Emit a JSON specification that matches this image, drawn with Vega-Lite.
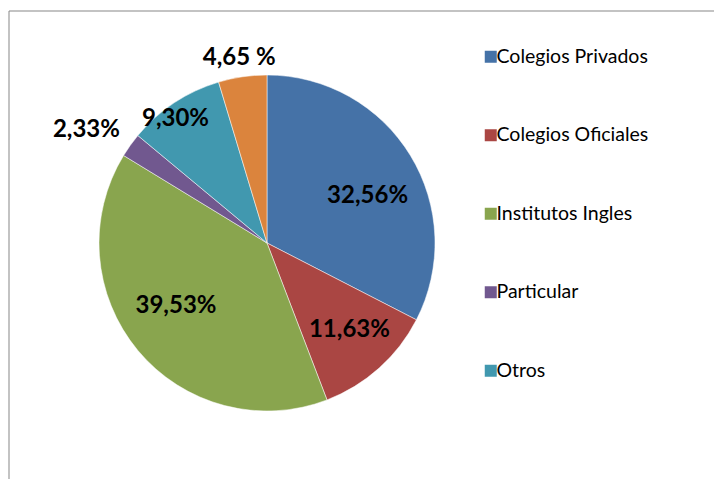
{
  "$schema": "https://vega.github.io/schema/vega-lite/v6.json",
  "width": 516,
  "height": 464,
  "autosize": "none",
  "padding": {"left": 9, "top": 11, "right": 189, "bottom": 4},
  "background": "white",
  "config": {
    "view": {"stroke": null},
    "font": "Lato"
  },
  "data": {
    "values": [
      {"categoria": "Colegios Privados", "n": 14, "orden": 1, "label": "32,56%"},
      {"categoria": "Colegios Oficiales", "n": 5, "orden": 2, "label": "11,63%"},
      {"categoria": "Institutos Ingles", "n": 17, "orden": 3, "label": "39,53%"},
      {"categoria": "Particular", "n": 1, "orden": 4, "label": "2,33%"},
      {"categoria": "Otros", "n": 4, "orden": 5, "label": "9,30%"},
      {"categoria": "Otra", "n": 2, "orden": 6, "label": "4,65 %"}
    ]
  },
  "layer": [
    {
      "data": {"values": [{"borde": "marco"}]},
      "mark": {"type": "rule", "color": "#878787", "strokeWidth": 1},
      "encoding": {"y": {"value": 0}, "x": {"value": 0}, "x2": {"value": 705}}
    },
    {
      "data": {"values": [{"borde": "marco"}]},
      "mark": {"type": "rule", "color": "#878787", "strokeWidth": 1},
      "encoding": {"x": {"value": 0}, "y": {"value": 0}, "y2": {"value": 470}}
    },
    {
      "mark": {"type": "arc", "outerRadius": 168, "stroke": "white", "strokeWidth": 0.5},
      "encoding": {
        "theta": {"field": "n", "type": "quantitative", "stack": true},
        "order": {"field": "orden", "type": "quantitative"},
        "color": {
          "field": "categoria",
          "type": "nominal",
          "scale": {
            "domain": ["Colegios Privados", "Colegios Oficiales", "Institutos Ingles", "Particular", "Otros", "Otra"],
            "range": ["#4572A7", "#AA4643", "#89A54E", "#71588F", "#4198AF", "#DB843D"]
          },
          "legend": {
            "values": ["Colegios Privados", "Colegios Oficiales", "Institutos Ingles", "Particular", "Otros"],
            "title": null,
            "orient": "none",
            "legendX": 472,
            "legendY": 36,
            "padding": 0,
            "symbolType": "square",
            "symbolSize": 144,
            "symbolStrokeWidth": 0,
            "symbolOpacity": 1,
            "labelFont": "Lato",
            "labelFontSize": 19.5,
            "labelColor": "black",
            "labelOffset": -4,
            "labelLimit": 300,
            "rowPadding": 57.5
          }
        }
      }
    },
    {
      "mark": {"type": "text", "radius": 112, "dx": 5, "dy": 11, "font": "Lato", "fontWeight": "bold", "fontSize": 24, "color": "black", "align": "center", "baseline": "middle"},
      "encoding": {
        "theta": {"field": "n", "type": "quantitative", "stack": true},
        "order": {"field": "orden", "type": "quantitative"},
        "text": {"condition": {"test": "datum.orden == 1", "field": "label"}, "value": ""}
      }
    },
    {
      "mark": {"type": "text", "radius": 119, "dx": 3, "dy": -2, "font": "Lato", "fontWeight": "bold", "fontSize": 24, "color": "black", "align": "center", "baseline": "middle"},
      "encoding": {
        "theta": {"field": "n", "type": "quantitative", "stack": true},
        "order": {"field": "orden", "type": "quantitative"},
        "text": {"condition": {"test": "datum.orden == 2", "field": "label"}, "value": ""}
      }
    },
    {
      "mark": {"type": "text", "radius": 108, "dx": -8, "dy": -6, "font": "Lato", "fontWeight": "bold", "fontSize": 24, "color": "black", "align": "center", "baseline": "middle"},
      "encoding": {
        "theta": {"field": "n", "type": "quantitative", "stack": true},
        "order": {"field": "orden", "type": "quantitative"},
        "text": {"condition": {"test": "datum.orden == 3", "field": "label"}, "value": ""}
      }
    },
    {
      "mark": {"type": "text", "radius": 211, "dx": -9, "dy": 10, "font": "Lato", "fontWeight": "bold", "fontSize": 24, "color": "black", "align": "center", "baseline": "middle"},
      "encoding": {
        "theta": {"field": "n", "type": "quantitative", "stack": true},
        "order": {"field": "orden", "type": "quantitative"},
        "text": {"condition": {"test": "datum.orden == 4", "field": "label"}, "value": ""}
      }
    },
    {
      "mark": {"type": "text", "radius": 155, "dx": -6, "dy": 5, "font": "Lato", "fontWeight": "bold", "fontSize": 24, "color": "black", "align": "center", "baseline": "middle"},
      "encoding": {
        "theta": {"field": "n", "type": "quantitative", "stack": true},
        "order": {"field": "orden", "type": "quantitative"},
        "text": {"condition": {"test": "datum.orden == 5", "field": "label"}, "value": ""}
      }
    },
    {
      "mark": {"type": "text", "radius": 191, "dx": 0, "dy": 4, "font": "Lato", "fontWeight": "bold", "fontSize": 24, "color": "black", "align": "center", "baseline": "middle"},
      "encoding": {
        "theta": {"field": "n", "type": "quantitative", "stack": true},
        "order": {"field": "orden", "type": "quantitative"},
        "text": {"condition": {"test": "datum.orden == 6", "field": "label"}, "value": ""}
      }
    }
  ]
}
